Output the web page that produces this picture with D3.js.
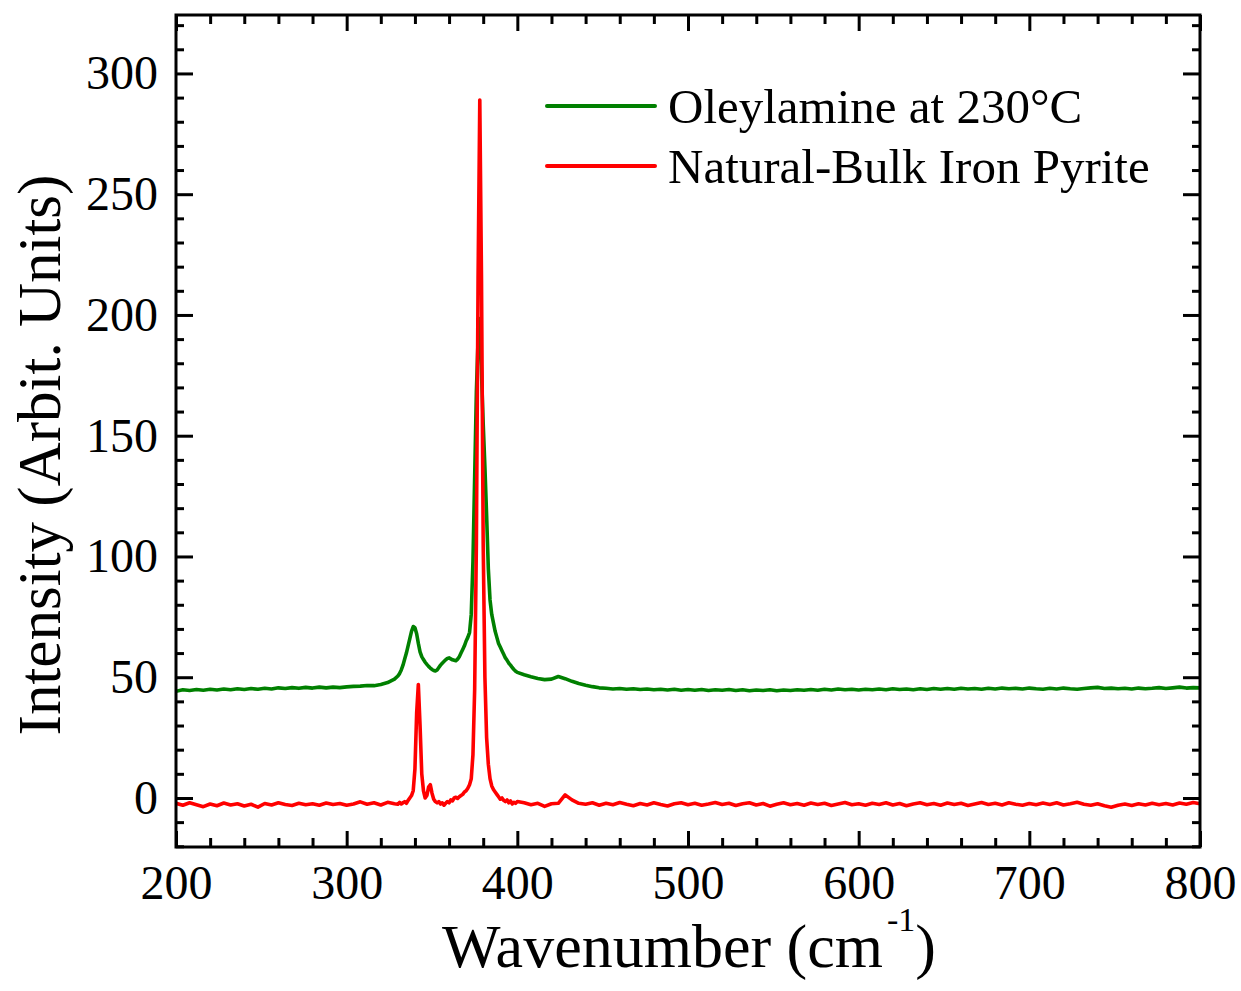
<!DOCTYPE html>
<html>
<head>
<meta charset="utf-8">
<script src="https://cdn.jsdelivr.net/npm/d3@7/dist/d3.min.js"></script>
<style>
  html, body { margin: 0; padding: 0; background: #fff; }
  svg { display: block; }
  text { font-family: "Liberation Serif", "Times New Roman", serif; fill: #000; }
</style>
</head>
<body>
<svg id="chart" width="1241" height="991"></svg>
<script>
// ---------------- DATA ----------------
// sampling grid (cm^-1): 200–328 every 4, 330–400 every 1, 404–800 every 4
const wavenumberLow  = d3.range(200, 329, 4);
const wavenumberPeak = d3.range(330, 401, 1);
const wavenumberHigh = d3.range(404, 801, 4);

// Oleylamine at 230°C (green)
const oleylamineLow = [
  44.2, 44.8, 44.5, 44.9, 44.6, 45.0, 44.7, 45.1, 44.8, 45.2, 44.9, 45.3, 45.0, 45.4, 45.1, 45.6,
  45.3, 45.7, 45.4, 45.8, 45.5, 45.9, 45.6, 45.9, 45.7, 46.0, 46.2, 46.3, 46.6, 46.5, 47.0, 47.8, 49.2
];
const oleylaminePeak = [
  50.5, 51.5, 53.0, 55.0, 57.5, 60.0, 63.0, 66.0, 69.0, 71.0,   // 330-339
  70.5, 68.0, 64.0, 60.5, 58.5, 57.3, 56.2, 55.3, 54.5, 53.8,   // 340-349
  53.2, 52.8, 52.6, 53.0, 54.0, 55.0, 55.8, 56.5, 57.2, 57.8,   // 350-359
  58.0, 57.6, 57.2, 57.0, 56.8, 57.5, 58.5, 60.0, 61.5, 63.0,   // 360-369
  65.0, 66.5, 68.5, 76.0, 98.0, 133.0, 168.0, 190.0, 198.5, 176.0, // 370-379
  155.0, 137.0, 117.0, 95.0, 82.0, 76.0, 72.5, 69.0, 66.5, 64.0, // 380-389
  62.5, 61.0, 59.5, 58.0, 57.0, 55.8, 55.0, 54.0, 53.2, 52.5,   // 390-399
  52.0                                                          // 400
];
const oleylamineHigh = [
  51.0, 50.2, 49.5, 49.0, 49.2, 50.3, 49.4, 48.3, 47.4, 46.7, 46.1, 45.6, 45.4, 45.1, 45.3, 45.0,
  45.2, 44.9, 45.1, 44.8, 45.0, 44.7, 45.0, 44.6, 44.9, 44.6, 44.9, 44.5, 44.8, 44.6, 44.9, 44.5,
  44.8, 44.4, 44.7, 44.5, 44.8, 44.4, 44.7, 44.5, 44.8, 44.6, 44.9, 44.6, 45.0, 44.7, 45.1, 44.8,
  45.0, 44.7, 45.0, 44.8, 45.1, 44.8, 45.2, 44.9, 45.1, 44.8, 45.2, 44.9, 45.3, 45.0, 45.3, 45.0,
  45.4, 45.1, 45.3, 45.0, 45.4, 45.1, 45.5, 45.2, 45.4, 45.1, 45.5, 45.2, 45.0, 45.4, 45.1, 45.5,
  45.2, 45.0, 45.3, 45.6, 45.8, 45.3, 45.5, 45.2, 45.4, 45.1, 45.5, 45.2, 45.4, 45.7, 45.3, 45.6,
  45.9, 45.5, 45.7, 45.6
];

// Natural-Bulk Iron Pyrite (red)
const pyriteLow = [
  -2.2, -3.0, -2.0, -2.8, -3.6, -2.5, -3.2, -2.1, -2.9, -2.4, -3.3, -2.6, -3.8, -2.3, -2.9, -2.0,
  -2.7, -3.1, -2.2, -2.8, -2.4, -3.0, -2.1, -2.7, -2.3, -3.0, -2.5, -1.6, -2.6, -2.0, -2.9, -1.8, -2.4
];
const pyritePeak = [
  -2.6, -1.8, -2.5, -2.0, -1.5, -2.2, -1.0, 0.0, 1.0, 3.0,      // 330-339
  12.0, 35.0, 47.0, 30.0, 10.0, 3.0, 0.0, 1.0, 4.5, 5.5,        // 340-349
  2.0, -0.5, -1.5, -2.0, -1.5, -2.5, -2.0, -3.0, -2.2, -1.5,    // 350-359
  -2.0, -0.8, -1.2, 0.0, 0.3, -0.2, 0.5, 1.0, 1.5, 2.5,         // 360-369
  3.0, 4.0, 5.5, 8.0, 18.0, 45.0, 105.0, 215.0, 289.0, 215.0,   // 370-379
  105.0, 50.0, 25.0, 14.0, 8.0, 5.0, 3.5, 2.5, 1.5, 0.5,        // 380-389
  -0.5, 0.0, -1.0, -1.5, -0.8, -2.0, -1.2, -2.5, -1.8, -2.2,    // 390-399
  -1.5                                                          // 400
];
const pyriteHigh = [
  -2.0, -2.8, -2.2, -3.5, -2.4, -2.2, 1.3, -0.8, -2.2, -2.6, -2.0, -3.0, -2.2, -2.8, -1.9, -2.6,
  -3.2, -2.3, -2.9, -2.0, -2.7, -3.3, -2.4, -2.0, -2.8, -2.2, -3.0, -2.5, -1.9, -2.7, -2.2, -3.1,
  -2.4, -2.0, -2.9, -2.3, -3.4, -2.6, -2.0, -2.8, -2.3, -3.0, -2.1, -2.7, -2.2, -3.1, -2.5, -1.9,
  -2.8, -2.4, -3.0, -2.2, -2.7, -2.0, -2.9, -2.3, -3.2, -2.5, -2.0, -2.8, -2.3, -3.0, -2.1, -2.7,
  -2.2, -3.1, -2.5, -1.9, -2.7, -2.2, -2.9, -2.0, -2.6, -3.0, -2.3, -2.8, -2.1, -2.7, -2.0, -2.9,
  -2.4, -1.8, -2.6, -3.0, -2.4, -3.2, -3.8, -3.0, -2.5, -3.1, -2.4, -2.9, -2.2, -2.8, -2.3, -2.9,
  -2.1, -2.6, -1.9, -2.4
];

const xTickMajor = [200, 300, 400, 500, 600, 700, 800];
const yTickMajor = [0, 50, 100, 150, 200, 250, 300];
const seriesNames = ["Oleylamine at 230°C", "Natural-Bulk Iron Pyrite"];
const seriesColors = ["#008000", "#ff0000"];

// ---------------- BUILD ----------------
const wavenumber = wavenumberLow.concat(wavenumberPeak, wavenumberHigh);
const oleylamine = oleylamineLow.concat(oleylaminePeak, oleylamineHigh);
const pyrite = pyriteLow.concat(pyritePeak, pyriteHigh);

const series = [
  { name: seriesNames[0], color: seriesColors[0], pts: wavenumber.map((w, i) => [w, oleylamine[i]]) },
  { name: seriesNames[1], color: seriesColors[1], pts: wavenumber.map((w, i) => [w, pyrite[i]]) }
];

const L = 176, R = 1200, T = 15, B = 847;
const svg = d3.select("#chart");

const x = d3.scaleLinear().domain([200, 800]).range([L, R]);
const y = d3.scaleLinear().domain([-20.3, 324.2]).range([B, T]);

const xMinor = d3.range(200, 801, 20).filter(v => v % 100 !== 0);
const yMinor = d3.range(-20, 325, 10).filter(v => v % 50 !== 0);

const fontTick = 48;

function styleAxis(g) {
  g.select(".domain").remove();
  g.selectAll("line").attr("stroke", "#000").attr("stroke-width", 3);
  g.selectAll("text").style("font-family", '"Liberation Serif", "Times New Roman", serif')
    .style("font-size", fontTick + "px").attr("fill", "#000");
}

svg.append("defs").append("clipPath").attr("id", "clip")
  .append("rect").attr("x", L).attr("y", T).attr("width", R - L).attr("height", B - T);

// data lines
const line = d3.line().x(d => x(d[0])).y(d => y(d[1]));
svg.append("g").attr("clip-path", "url(#clip)")
  .selectAll("path").data(series).join("path")
  .attr("d", d => line(d.pts))
  .attr("fill", "none")
  .attr("stroke", d => d.color)
  .attr("stroke-width", 3.6)
  .attr("stroke-linejoin", "round")
  .attr("stroke-linecap", "round");

// axes
svg.append("g").attr("transform", `translate(0,${B})`)
  .call(d3.axisBottom(x).tickValues(xTickMajor).tickSizeInner(-16).tickSizeOuter(0).tickPadding(18).tickFormat(d3.format("d")))
  .call(styleAxis);
svg.append("g").attr("transform", `translate(0,${B})`)
  .call(d3.axisBottom(x).tickValues(xMinor).tickSizeInner(-9).tickSizeOuter(0).tickFormat(""))
  .call(styleAxis);
svg.append("g").attr("transform", `translate(0,${T})`)
  .call(d3.axisTop(x).tickValues(xTickMajor).tickSizeInner(-16).tickSizeOuter(0).tickFormat(""))
  .call(styleAxis);
svg.append("g").attr("transform", `translate(0,${T})`)
  .call(d3.axisTop(x).tickValues(xMinor).tickSizeInner(-9).tickSizeOuter(0).tickFormat(""))
  .call(styleAxis);

svg.append("g").attr("transform", `translate(${L},0)`)
  .call(d3.axisLeft(y).tickValues(yTickMajor).tickSizeInner(-17).tickSizeOuter(0).tickPadding(18).tickFormat(d3.format("d")))
  .call(styleAxis);
svg.append("g").attr("transform", `translate(${L},0)`)
  .call(d3.axisLeft(y).tickValues(yMinor).tickSizeInner(-8).tickSizeOuter(0).tickFormat(""))
  .call(styleAxis);
svg.append("g").attr("transform", `translate(${R},0)`)
  .call(d3.axisRight(y).tickValues(yTickMajor).tickSizeInner(-17).tickSizeOuter(0).tickFormat(""))
  .call(styleAxis);
svg.append("g").attr("transform", `translate(${R},0)`)
  .call(d3.axisRight(y).tickValues(yMinor).tickSizeInner(-8).tickSizeOuter(0).tickFormat(""))
  .call(styleAxis);

// frame
svg.append("rect").attr("x", L).attr("y", T).attr("width", R - L).attr("height", B - T)
  .attr("fill", "none").attr("stroke", "#000").attr("stroke-width", 3);

// axis titles
const xt = svg.append("text").attr("x", 689).attr("y", 967).attr("text-anchor", "middle")
  .style("font-size", "62px");
xt.append("tspan").text("Wavenumber (cm");
xt.append("tspan").attr("dx", 4).attr("dy", -36).style("font-size", "34px").text("-1");
xt.append("tspan").attr("dy", 36).text(")");

svg.append("text")
  .attr("transform", "translate(60,455) rotate(-90)")
  .attr("text-anchor", "middle")
  .style("font-size", "61px")
  .text("Intensity (Arbit. Units)");

// legend
const leg = svg.append("g");
series.forEach((s, i) => {
  const ly = 106 + i * 60;
  leg.append("line").attr("x1", 547).attr("x2", 655).attr("y1", ly).attr("y2", ly)
    .attr("stroke", s.color).attr("stroke-width", 4).attr("stroke-linecap", "round");
  leg.append("text").attr("x", 668).attr("y", ly + 17).style("font-size", "49px").text(s.name);
});
</script>
</body>
</html>
